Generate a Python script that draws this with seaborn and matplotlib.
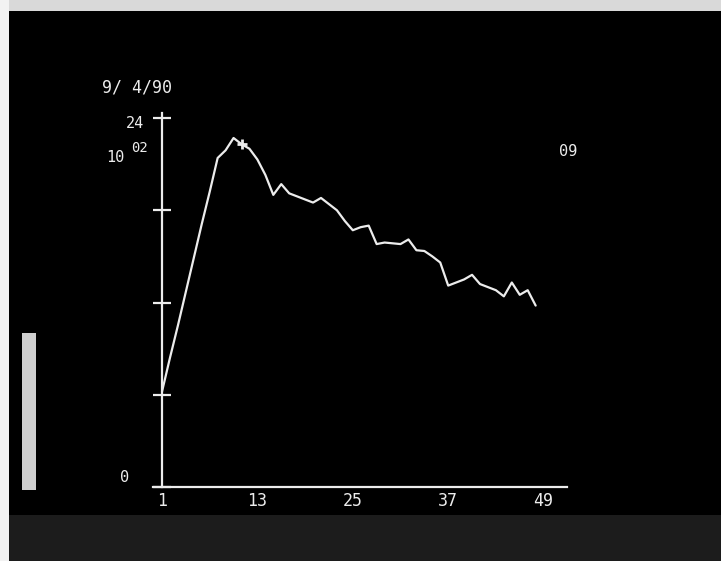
import matplotlib
matplotlib.use("Agg")
import matplotlib.pyplot as plt
import seaborn as sns
import pandas as pd
from matplotlib.patches import Rectangle

# ---- data ----
sample = list(range(1, 49))
value = [6.2, 8.4, 10.5, 12.7, 14.9, 17.1, 19.2, 21.4, 21.9, 22.7,
         22.3, 22.0, 21.3, 20.3, 19.0, 19.7, 19.1, 18.9, 18.7, 18.5,
         18.8, 18.4, 18.0, 17.3, 16.7, 16.9, 17.0, 15.8, 15.9, 15.85,
         15.8, 16.1, 15.4, 15.35, 15.0, 14.6, 13.1, 13.3, 13.5, 13.8,
         13.2, 13.0, 12.8, 12.4, 13.3, 12.5, 12.8, 11.8]
marker_x = [11]
marker_y = [22.3]
x_ticks = [1, 13, 25, 37, 49]
y_ticks = [0, 6, 12, 18, 24]
date_label = "9/ 4/90"
channel_label = "09"

df = pd.DataFrame({"sample": sample, "value": value})

sns.set_style("dark")
plt.rcParams["font.family"] = ["DejaVu Sans Mono", "DejaVu Sans"]

fg = "#ececec"
fig = plt.figure(figsize=(7.21, 5.61), dpi=100, facecolor="black")

# photo borders
fig.patches.append(Rectangle((0, 1 - 11 / 561), 1, 11 / 561, transform=fig.transFigure,
                             facecolor="#d9d9d9", edgecolor="none", zorder=0))
fig.patches.append(Rectangle((0, 0), 1, 46 / 561, transform=fig.transFigure,
                             facecolor="#1c1c1c", edgecolor="none", zorder=0))
fig.patches.append(Rectangle((0, 0), 9 / 721, 1, transform=fig.transFigure,
                             facecolor="#f2f2f2", edgecolor="none", zorder=0))
fig.patches.append(Rectangle((22 / 721, 1 - 490 / 561), 14 / 721, 157 / 561, transform=fig.transFigure,
                             facecolor="#cfcfcf", edgecolor="none", zorder=0))

ax = fig.add_axes([153 / 721, 1 - 487 / 561, 414 / 721, 374 / 561])
ax.set_facecolor("black")

sns.lineplot(data=df, x="sample", y="value", ax=ax, color=fg, linewidth=1.6)
ax.plot(marker_x, marker_y, marker="+", markersize=7, markeredgewidth=2, color=fg, linestyle="none")

ax.set_xlim(1 - 9 / 7.95, 1 + 405 / 7.95)
ax.set_ylim(0, (487 - 113) / 15.375)

for s in ["top", "right"]:
    ax.spines[s].set_visible(False)
ax.spines["left"].set_position(("data", 1))
for s in ["left", "bottom"]:
    ax.spines[s].set_color(fg)
    ax.spines[s].set_linewidth(1.6)

ax.set_xticks(x_ticks)
ax.set_xticklabels([str(t) for t in x_ticks])
ax.set_yticks(y_ticks)
ax.set_yticklabels([])
ax.tick_params(axis="x", direction="inout", length=11, width=1.6, color=fg,
               labelcolor=fg, labelsize=12, pad=-2)
ax.tick_params(axis="y", direction="inout", length=13, width=1.6, color=fg, left=True)
ax.grid(False)
ax.set_xlabel("")
ax.set_ylabel("")

# texts placed in figure pixels
def ftext(px, py, s, size=12, ha="left"):
    fig.text(px / 721, 1 - py / 561, s, color=fg, fontsize=size, ha=ha, va="center")

ftext(102, 88, date_label, 12)
ftext(126, 124, "24", 11)
ftext(106, 158, "10", 11)
ftext(131, 148, "02", 10)
ftext(120, 478, "0", 11)
ftext(559, 151, channel_label, 11)

ax.set_title("")
fig.savefig("out.png", dpi=100, facecolor="black")
